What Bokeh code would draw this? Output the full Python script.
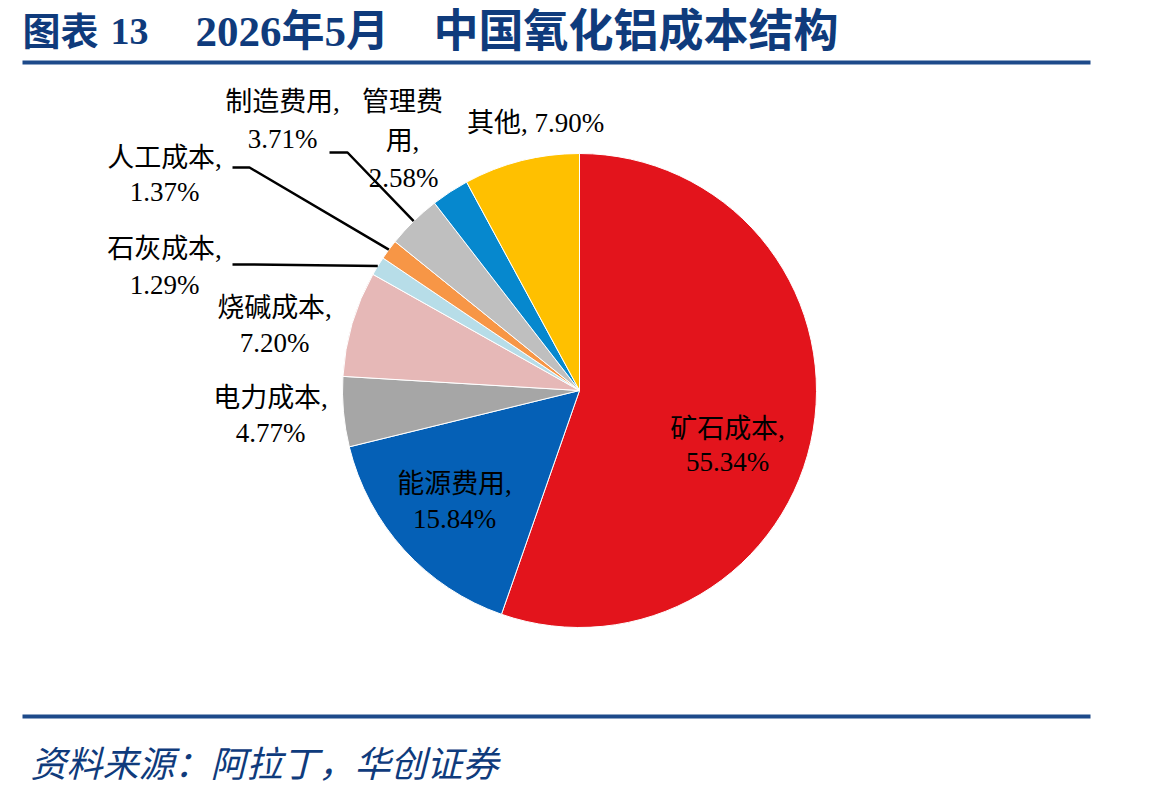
import math
from bokeh.plotting import figure
from bokeh.models import Range1d, ColumnDataSource
from bokeh.core.properties import value
from bokeh.embed import file_html
from bokeh.resources import INLINE

# ---- data ----
categories = ["矿石成本", "能源费用", "电力成本", "烧碱成本", "石灰成本",
              "人工成本", "制造费用", "管理费用", "其他"]
shares = [55.34, 15.84, 4.77, 7.20, 1.29, 1.37, 3.71, 2.58, 7.90]
colors = ["#E3141C", "#0560B6", "#A6A6A6", "#E6B8B7", "#B7DDE8",
          "#F79646", "#BFBFBF", "#0688CE", "#FFC000"]

title_parts = ["图表", "13", "2026年5月", "中国氧化铝成本结构"]
source_text = "资料来源：阿拉丁，华创证券"

W, H = 1149, 792
def Y(py):
    return H - py

p = figure(width=W, height=H, output_backend="svg", toolbar_location=None,
           x_range=Range1d(0, W), y_range=Range1d(0, H), min_border=0)
p.axis.visible = False
p.grid.visible = False
p.outline_line_color = None
p.background_fill_color = "white"

SERIF = value("'Liberation Serif', 'Noto Sans CJK SC'")
NAVY = "#0F3B7C"

# ---- title ----
title_x = [22, 110, 195, 433]
title_sz = ["38px", "38px", "43px", "45px"]
for txt, x, sz in zip(title_parts, title_x, title_sz):
    p.text(x=[x], y=[Y(31)], text=[txt], text_font=SERIF, text_font_size=sz,
           text_font_style="bold", text_color=NAVY, text_baseline="middle",
           text_align="left")
p.line(x=[22, 1090], y=[Y(62), Y(62)], line_color="#1D4A8A", line_width=4)
p.line(x=[22, 1090], y=[Y(716), Y(716)], line_color="#1D4A8A", line_width=4)
p.text(x=[30], y=[Y(760)], text=[source_text], text_font=value("Noto Sans CJK SC"),
       text_font_size="36px", text_font_style="italic", text_color=NAVY,
       text_baseline="middle", text_align="left")

# ---- pie ----
cx, cy, R = 579, Y(390), 237
total = sum(shares)
cum = [0.0]
for s in shares:
    cum.append(cum[-1] + s)
starts = [math.pi / 2 - 2 * math.pi * cum[i + 1] / total for i in range(len(shares))]
ends = [math.pi / 2 - 2 * math.pi * cum[i] / total for i in range(len(shares))]
src = ColumnDataSource(dict(start=starts, end=ends, color=colors, cat=categories, v=shares))
p.wedge(x=cx, y=cy, radius=R, start_angle="start", end_angle="end",
        fill_color="color", line_color="white", line_width=1, source=src)

mid = [(s + e) / 2 for s, e in zip(starts, ends)]
def edge(i):
    return (cx + R * math.cos(mid[i]), cy + R * math.sin(mid[i]))

# ---- leader lines ----
leaders = {6: (329, 347, 152), 5: (232, 249, 167), 4: (232, 249, 264)}
for i, (x0, x1, py) in leaders.items():
    ex, ey = edge(i)
    p.line(x=[x0, x1, ex], y=[Y(py), Y(py), ey], line_color="black", line_width=2.5)

# ---- labels ----
lbl_font = "27px"
def lab(x, py, t):
    p.text(x=[x], y=[Y(py)], text=[t], text_font=SERIF, text_font_size=lbl_font,
           text_color="black", text_baseline="middle", text_align="center")

two_line_pos = {0: (727, 428, 461), 1: (454, 483, 518), 2: (270, 397, 432),
                3: (274, 307, 342), 4: (164, 248, 284), 5: (164, 157, 191),
                6: (282, 101, 138)}
for i, (x, y1, y2) in two_line_pos.items():
    lab(x, y1, f"{categories[i]},")
    lab(x, y2, f"{shares[i]:.2f}%")

# 管理费用 broken over three lines
name = categories[7]
lab(402, 101, name[:3])
lab(402, 140, name[3:] + ",")
lab(403, 177, f"{shares[7]:.2f}%")
# 其他 on one line
lab(535, 122, f"{categories[8]}, {shares[8]:.2f}%")

open("out.html", "w").write(file_html(p, INLINE))
